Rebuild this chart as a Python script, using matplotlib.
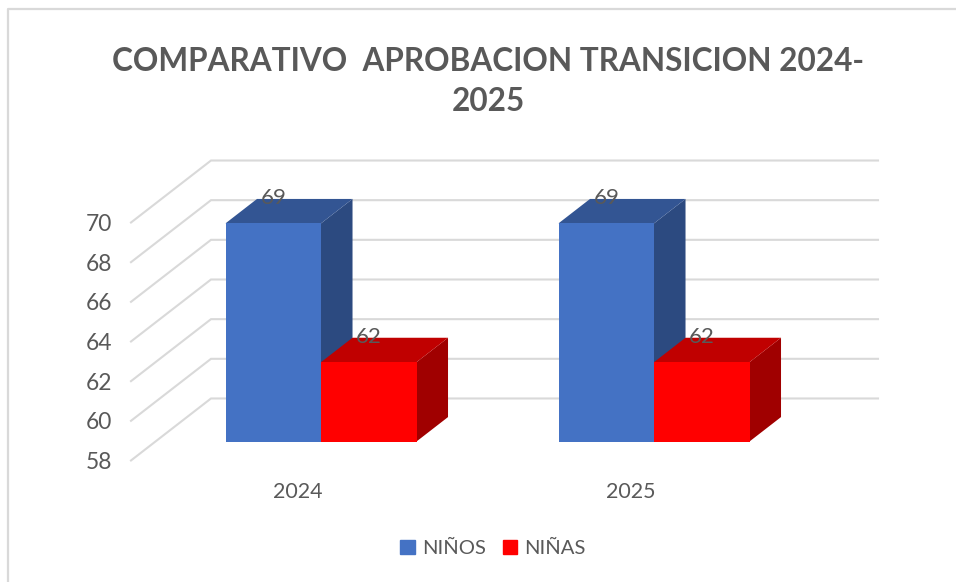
import matplotlib
matplotlib.use('Agg')
import matplotlib.pyplot as plt
from matplotlib.patches import Polygon, Rectangle

plt.rcParams['font.family'] = ['Lato', 'DejaVu Sans']

years = ['2024', '2025']
ninos = [69, 69]
ninas = [62, 62]
y_ticks = [58, 60, 62, 64, 66, 68, 70]
title = 'COMPARATIVO  APROBACION TRANSICION 2024-\n2025'

W, H = 956, 582
PX_X = 333.0      # pixels per category
PX_Y = 19.83      # pixels per unit
X0, Y0 = 321, 441.5 # pixel of category 0 / value 58 on the bar front plane
BAR_W = 95.5 / PX_X
# oblique depth, full wall depth in data units
DX = 80 / PX_X
DY = 62 / PX_Y
FRONT, BACK = 0.306, 0.70
TEXT = '#595959'
GRID = '#d9d9d9'

fig = plt.figure(figsize=(W / 100, H / 100), dpi=100)
ax = fig.add_axes([0, 0, 1, 1])
ax.set_xlim(-X0 / PX_X, (W - X0) / PX_X)
ax.set_ylim(58 - (H - Y0) / PX_Y, 58 + Y0 / PX_Y)
ax.axis('off')


def proj(x, v, d):
    # depth d: 0 front of the wall, 1 back wall
    # bars sit on a floor that starts at FRONT, so shift relative to that
    return x + (d - FRONT) * DX, v + (d - FRONT) * DY


def box(x, width, value, front, side, top):
    ax.bar(x, value - 58, width, bottom=58, align='edge', color=front, zorder=3)
    xr = x + width
    ax.add_patch(Polygon([proj(xr, 58, FRONT), proj(xr, 58, BACK), proj(xr, value, BACK), proj(xr, value, FRONT)],
                         color=side, lw=0, zorder=2))
    ax.add_patch(Polygon([proj(x, value, FRONT), proj(x, value, BACK), proj(xr, value, BACK), proj(xr, value, FRONT)],
                         color=top, lw=0, zorder=2))


# gridlines: side wall then back wall
right_end = (878 - X0) / PX_X
wall_x = (131 - X0) / PX_X + FRONT * DX
for t in y_ticks:
    xa, ya = proj(wall_x, t, 0)
    xb, yb = proj(wall_x, t, 1)
    ax.plot([xa, xb, right_end], [ya, yb, yb], color=GRID, lw=1.5, zorder=1, solid_joinstyle='miter')
    ax.text((112 - X0) / PX_X, ya - 2 / PX_Y, str(t), ha='right', va='center', fontsize=16.4, color=TEXT)

for i, year in enumerate(years):
    box(i - BAR_W, BAR_W, ninos[i], '#4472c4', '#2c4a80', '#335593')
    box(i, BAR_W, ninas[i], '#ff0000', '#a00000', '#c00000')
    for x, v in [(i - BAR_W / 2, ninos[i]), (i + BAR_W / 2, ninas[i])]:
        ax.annotate(str(v), (x, v), xytext=(0, 18.2), textcoords='offset points', ha='center', va='center',
                    fontsize=16, color=TEXT, zorder=5)
    ax.text(i - 23 / PX_X, 58 - 50 / PX_Y, year, ha='center', va='center', fontsize=15.4, color=TEXT)

handles = [Rectangle((0, 0), 1, 1, color='#4472c4'), Rectangle((0, 0), 1, 1, color='#ff0000')]
fig.legend(handles, ['NIÑOS', 'NIÑAS'], ncols=2, loc='center', bbox_to_anchor=(493 / W, 1 - 548.5 / H),
           frameon=False, fontsize=14.6, labelcolor=TEXT, handlelength=0.7, handleheight=0.7, handletextpad=0.35,
           columnspacing=0.85)

fig.text(488 / W, 1 - 81.5 / H, title, ha='center', va='center', fontsize=22.7, fontweight='bold', color=TEXT,
         linespacing=1.45)

# chart frame
fig.add_artist(plt.Line2D([8 / W, 8 / W, 1], [0, 1 - 9 / H, 1 - 9 / H], color=GRID, lw=1.6))

fig.savefig('out.png', dpi=100)
